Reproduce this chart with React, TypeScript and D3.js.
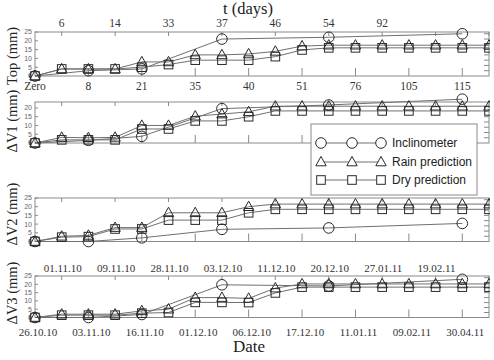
import React from "react";
import * as d3 from "d3";

// ---------- data ----------
const N = 18;
const topTickLabelsDays = ["6", "14", "33", "37", "46", "54", "92", ""]; // odd indices
const bottomTickLabelsDays = ["Zero", "8", "21", "35", "40", "51", "76", "105", "115"]; // even indices
const topTickLabelsDates = ["01.11.10", "09.11.10", "28.11.10", "03.12.10", "11.12.10", "20.12.10", "27.01.11", "19.02.11"];
const bottomTickLabelsDates = ["26.10.10", "03.11.10", "16.11.10", "01.12.10", "06.12.10", "17.12.10", "11.01.11", "09.02.11", "30.04.11"];

// Inclinometer: measured only at some indices [index, value]
const topIncl: [number, number][] = [[0, 0], [2, 3], [4, 4], [7, 21], [11, 22], [16, 24]];
const topRain = [0, 4, 4, 4, 8, 8, 12, 12, 12.5, 14, 17, 17.5, 17.5, 17.5, 17.5, 17.5, 17.5, 17.5];
const topDry = [0, 4, 4, 4, 5, 6.5, 9, 9, 9, 11, 14.8, 16, 16, 16, 16, 16, 16, 16];

const v1Incl: [number, number][] = [[0, 0], [2, 1.5], [4, 3.8], [7, 19.6], [11, 21.7], [16, 25]];
const v1Rain = [0, 3.2, 3, 3.2, 10, 10, 15.3, 16.5, 17.8, 21, 21, 21, 21, 21, 21, 21, 21, 21];
const v1Dry = [0, 1.8, 1.8, 1.8, 8, 8, 12.6, 12.6, 15, 18.3, 18.3, 18.3, 18.3, 18.3, 18.3, 18.3, 18.3, 18.3];

const v2Incl: [number, number][] = [[0, 0], [2, 0], [4, 2.1], [7, 7], [11, 7.8], [16, 10.4]];
const v2Rain = [0, 3, 3.5, 8, 8, 16.5, 16.5, 16.5, 20, 21.5, 21.5, 21.5, 21.5, 21.5, 21.5, 21.5, 21.5, 21.5];
const v2Dry = [0, 2.5, 2.8, 7.2, 7.2, 12.3, 12.3, 12.3, 16.5, 18.5, 18.5, 18.5, 18.5, 18.5, 18.5, 18.5, 18.5, 18.5];

const v3Incl: [number, number][] = [[0, 0], [2, 0], [4, 1.8], [7, 19.7], [11, 19], [16, 23]];
const v3Rain = [0, 2, 2, 2, 4, 5, 12, 12, 11.5, 17.7, 20.2, 20.2, 20.2, 20.2, 20.2, 20.2, 20.2, 20.2];
const v3Dry = [0, 1.4, 1.4, 1.4, 2.6, 3, 9.1, 9.1, 9, 14.8, 18.3, 18.3, 18.3, 18.3, 18.3, 18.3, 18.3, 18.3];

const legendLabels = ["Inclinometer", "Rain prediction", "Dry prediction"];

// ---------- styling ----------
const LINE = "#707070";
const MARK = "#2a2a2a";
const FRAME = "#8a8a8a";
const SERIF = "'Liberation Serif', 'Times New Roman', serif";
const SANS = "'Liberation Sans', Arial, sans-serif";

const x = d3.scaleLinear().domain([0, N - 1]).range([35, 489]);

type Panel = {
  title: string;
  top: number;
  bottom: number;
  ymax: number;
  yticks: number[];
  incl: [number, number][];
  rain: number[];
  dry: number[];
  titleY: number;
};

const panels: Panel[] = [
  { title: "Top (mm)", top: 32, bottom: 76, ymax: 25, yticks: [0, 5, 10, 15, 20, 25], incl: topIncl, rain: topRain, dry: topDry, titleY: 56 },
  { title: "\u0394V1 (mm)", top: 102, bottom: 143, ymax: 23.4, yticks: [0, 5, 10, 15, 20], incl: v1Incl, rain: v1Rain, dry: v1Dry, titleY: 121 },
  { title: "\u0394V2 (mm)", top: 198, bottom: 241.5, ymax: 25, yticks: [0, 5, 10, 15, 20, 25], incl: v2Incl, rain: v2Rain, dry: v2Dry, titleY: 214 },
  { title: "\u0394V3 (mm)", top: 276, bottom: 317.5, ymax: 25, yticks: [0, 5, 10, 15, 20, 25], incl: v3Incl, rain: v3Rain, dry: v3Dry, titleY: 293 },
];

function Circle({ cx, cy, fill = "none" }: { cx: number; cy: number; fill?: string }) {
  return <circle cx={cx} cy={cy} r={5.3} fill={fill} stroke={MARK} strokeWidth={1} />;
}
function Tri({ cx, cy, fill = "none" }: { cx: number; cy: number; fill?: string }) {
  return <path d={`M${cx},${cy - 5.6}L${cx + 5.2},${cy + 3.8}L${cx - 5.2},${cy + 3.8}Z`} fill={fill} stroke={MARK} strokeWidth={1} />;
}
function Sq({ cx, cy, fill = "none" }: { cx: number; cy: number; fill?: string }) {
  return <rect x={cx - 4.3} y={cy - 4.3} width={8.6} height={8.6} fill={fill} stroke={MARK} strokeWidth={1} />;
}

function PanelView({ p }: { p: Panel }) {
  const y = d3.scaleLinear().domain([0, p.ymax]).range([p.bottom, p.top]);
  const line = d3.line<[number, number]>().x((d) => x(d[0])).y((d) => y(d[1]));
  const rainPts = p.rain.map((v, i) => [i, v] as [number, number]);
  const dryPts = p.dry.map((v, i) => [i, v] as [number, number]);
  const [x0, x1] = x.range();
  const rightTicks = d3.range(3, p.ymax, 3);
  const evenIdx = d3.range(2, N, 2);
  const oddIdx = d3.range(1, N, 2);
  return (
    <g>
      <rect x={x0} y={p.top} width={x1 - x0} height={p.bottom - p.top} fill="none" stroke={FRAME} strokeWidth={1} />
      {p.yticks.map((t) => (
        <g key={"yl" + t}>
          <line x1={x0} x2={x0 + 3} y1={y(t)} y2={y(t)} stroke={FRAME} />
          <text x={x0 - 3} y={y(t)} dy="0.35em" textAnchor="end" fontFamily={SANS} fontSize={7} fill="#666">
            {t}
          </text>
        </g>
      ))}
      {rightTicks.map((t) => (
        <line key={"yr" + t} x1={x1} x2={x1 - 5} y1={y(t)} y2={y(t)} stroke={FRAME} />
      ))}
      {evenIdx.map((i) => (
        <line key={"xb" + i} x1={x(i)} x2={x(i)} y1={p.bottom} y2={p.bottom - 8} stroke={FRAME} />
      ))}
      {oddIdx.map((i) => (
        <line key={"xt" + i} x1={x(i)} x2={x(i)} y1={p.top} y2={p.top + 4} stroke={FRAME} />
      ))}
      <text transform={`translate(17,${p.titleY}) rotate(-90)`} textAnchor="middle" fontFamily={SERIF} fontSize={14.5} fill="#222">
        {p.title}
      </text>
      <g clipPath="url(#clipR)">
        <path d={line(rainPts) || ""} fill="none" stroke={LINE} strokeWidth={1} />
        <path d={line(dryPts) || ""} fill="none" stroke={LINE} strokeWidth={1} />
        <path d={line(p.incl) || ""} fill="none" stroke={LINE} strokeWidth={1} />
        {dryPts.map((d) => (
          <Sq key={"s" + d[0]} cx={x(d[0])} cy={y(d[1])} />
        ))}
        {rainPts.map((d) => (
          <Tri key={"t" + d[0]} cx={x(d[0])} cy={y(d[1])} />
        ))}
        {p.incl.map((d) => (
          <Circle key={"c" + d[0]} cx={x(d[0])} cy={y(d[1])} />
        ))}
      </g>
    </g>
  );
}

export default function App() {
  const p0 = panels[0];
  const p3 = panels[3];
  const evenIdx = d3.range(0, N - 1, 2);
  const oddIdx = d3.range(1, N - 1, 2);
  const legendRows = [143, 162, 180];
  const legendX = [321, 352, 381];
  return (
    <div style={{ position: "absolute", left: 0, top: 0 }}>
      <svg width={494} height={360} style={{ display: "block", background: "#fff" }}>
        <defs>
          <clipPath id="clipR">
            <rect x={0} y={0} width={490} height={360} />
          </clipPath>
        </defs>
        <text x={248} y={14} textAnchor="middle" fontFamily={SERIF} fontSize={16.5} fill="#222">
          t (days)
        </text>
        {oddIdx.map((i, k) => (
          <text key={"td" + i} x={x(i)} y={p0.top - 5} textAnchor="middle" fontFamily={SERIF} fontSize={11.5} fill="#333">
            {topTickLabelsDays[k]}
          </text>
        ))}
        {evenIdx.map((i, k) => (
          <text key={"bd" + i} x={x(i)} y={p0.bottom + 14} textAnchor="middle" fontFamily={SERIF} fontSize={11.5} fill="#333">
            {bottomTickLabelsDays[k]}
          </text>
        ))}
        {panels.map((p, i) => (
          <PanelView key={i} p={p} />
        ))}
        {oddIdx.map((i, k) => (
          <text key={"tdt" + i} x={x(i) + 1} y={p3.top - 4} textAnchor="middle" fontFamily={SERIF} fontSize={11} fill="#333">
            {topTickLabelsDates[k]}
          </text>
        ))}
        {evenIdx.map((i, k) => (
          <text key={"bdt" + i} x={x(i) + 3} y={p3.bottom + 18} textAnchor="middle" fontFamily={SERIF} fontSize={11} fill="#333">
            {bottomTickLabelsDates[k]}
          </text>
        ))}
        <text x={249} y={352} textAnchor="middle" fontFamily={SERIF} fontSize={17} fill="#222">
          Date
        </text>
        <rect x={311} y={124} width={166} height={71} fill="#fff" stroke={FRAME} strokeWidth={1} />
        {legendRows.map((ly, r) => (
          <g key={"lg" + r}>
            <line x1={legendX[0]} x2={legendX[2]} y1={ly} y2={ly} stroke={LINE} />
            {legendX.map((lx) =>
              r === 0 ? (
                <Circle key={lx} cx={lx} cy={ly} fill="#fff" />
              ) : r === 1 ? (
                <Tri key={lx} cx={lx} cy={ly} fill="#fff" />
              ) : (
                <Sq key={lx} cx={lx} cy={ly} fill="#fff" />
              )
            )}
            <text x={392} y={ly} dy="0.35em" fontFamily={SANS} fontSize={12} fill="#222">
              {legendLabels[r]}
            </text>
          </g>
        ))}
      </svg>
    </div>
  );
}
